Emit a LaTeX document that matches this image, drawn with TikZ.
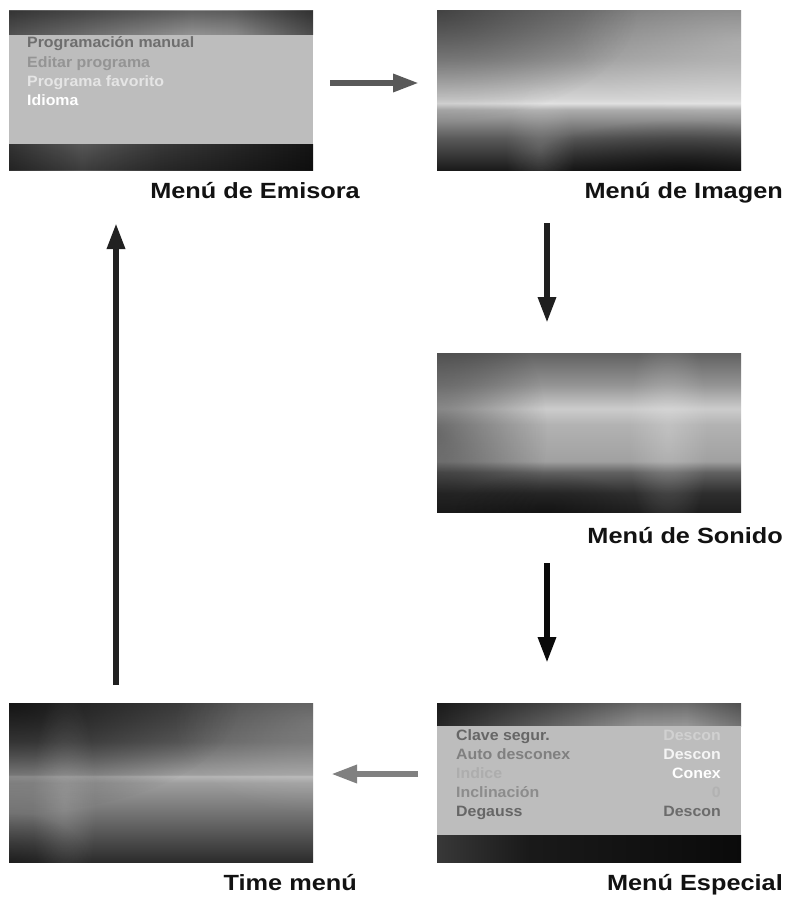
\documentclass[tikz,border=0pt]{standalone}
\usepackage{fontspec}
\setmainfont{Liberation Sans}
\newfontfamily\lblfont[FakeStretch=1.15]{Liberation Sans}
\newfontfamily\itemfont[FakeStretch=1.06]{Liberation Sans}
\usetikzlibrary{arrows.meta,fadings}

% vertical shadings: 25bp = bottom, 75bp = top
\pgfdeclareverticalshading{imgV}{100bp}{color(0bp)=(black!90); color(25bp)=(black!90); color(35bp)=(black!65); color(44bp)=(black!32); color(46bp)=(black!12); color(47.5bp)=(black!17); color(60bp)=(black!38); color(75bp)=(black!52); color(100bp)=(black!52)}
\pgfdeclareverticalshading{sonV}{100bp}{color(0bp)=(black!88); color(25bp)=(black!88); color(31bp)=(black!82); color(37.5bp)=(black!62); color(41bp)=(black!37); color(52.5bp)=(black!30); color(57.5bp)=(black!20); color(65bp)=(black!42); color(75bp)=(black!62); color(100bp)=(black!62)}
\pgfdeclareverticalshading{timeV}{100bp}{color(0bp)=(black!83); color(25bp)=(black!83); color(37.5bp)=(black!60); color(50bp)=(black!38); color(52bp)=(black!29); color(52.5bp)=(black!38); color(63bp)=(black!62); color(75bp)=(black!72); color(100bp)=(black!72)}
% horizontal shadings: 25bp = left, 75bp = right
\pgfdeclarehorizontalshading{emisTop}{100bp}{color(0bp)=(black!68); color(25bp)=(black!68); color(40bp)=(black!55); color(55bp)=(black!42); color(62bp)=(black!45); color(75bp)=(black!70); color(100bp)=(black!70)}
\pgfdeclarehorizontalshading{emisBot}{100bp}{color(0bp)=(black!80); color(25bp)=(black!80); color(37bp)=(black!66); color(50bp)=(black!78); color(75bp)=(black!92); color(100bp)=(black!92)}
\pgfdeclarehorizontalshading{espTop}{100bp}{color(0bp)=(black!85); color(25bp)=(black!85); color(45bp)=(black!60); color(58bp)=(black!42); color(66bp)=(black!40); color(75bp)=(black!55); color(100bp)=(black!55)}
\pgfdeclarehorizontalshading{espBot}{100bp}{color(0bp)=(black!78); color(25bp)=(black!78); color(40bp)=(black!90); color(75bp)=(black!96); color(100bp)=(black!96)}

\tikzfading[name=fadeT, top color=transparent!0, bottom color=transparent!100]
\tikzfading[name=fadeB, top color=transparent!100, bottom color=transparent!0]
\tikzfading[name=blob, inner color=transparent!0, outer color=transparent!100]

\tikzset{
  screen/.style={rectangle, inner sep=0pt, outer sep=0pt, minimum width=304pt, minimum height=159pt},
  lbl/.style={inner sep=0pt, text=black!93, font={\lblfont\fontsize{22pt}{22pt}\selectfont\bfseries}},
  item/.style={inner sep=0pt, font={\itemfont\fontsize{15pt}{15pt}\selectfont\bfseries}},
  arr/.style={line width=6pt, -{Triangle[length=26pt,width=17pt]}},
  darkblob/.style={black, fill opacity=#1, path fading=blob},
  lightblob/.style={white, fill opacity=#1, path fading=blob},
}

\begin{document}
\begin{tikzpicture}[x=1pt,y=-1pt]
\useasboundingbox (0,0) rectangle (791,899);

% ---------- screens (named nodes) ----------
\node[screen] (emis) at (161,90.5) {};
\node[screen] (imag) at (589,90.5) {};
\node[screen] (soni) at (589,432.5) {};
\node[screen] (espe) at (589,782.5) {};
\node[screen] (time) at (161,782.5) {};

% Menu de Emisora
\begin{scope}
\clip (emis.north west) rectangle (emis.south east);
\shade[shading=emisTop] (emis.north west) rectangle ([yshift=-24pt]emis.north east);
\fill[black, fill opacity=0.35, path fading=fadeT] (emis.north west) rectangle ([yshift=-24pt]emis.north east);
\fill[black!26] ([yshift=-24pt]emis.north west) rectangle ([yshift=26pt]emis.south east);
\shade[shading=emisBot] ([yshift=26pt]emis.south west) rectangle (emis.south east);
\fill[black, fill opacity=0.3, path fading=fadeB] ([yshift=26pt]emis.south west) rectangle (emis.south east);
\end{scope}

% Menu de Imagen
\begin{scope}
\clip (imag.north west) rectangle (imag.south east);
\shade[shading=imgV] (imag.north west) rectangle (imag.south east);
\fill[darkblob=0.45] (imag.north west) ellipse (200 and 110);
\fill[lightblob=0.25] ([yshift=-30pt]imag.north east) ellipse (170 and 80);
\fill[darkblob=0.5] ([xshift=-60pt]imag.south east) ellipse (160 and 50);
\fill[lightblob=0.14] ([xshift=103pt,yshift=20pt]imag.south west) ellipse (35 and 70);
\end{scope}

% Menu de Sonido
\begin{scope}
\clip (soni.north west) rectangle (soni.south east);
\shade[shading=sonV] (soni.north west) rectangle (soni.south east);
\fill[darkblob=0.4] (soni.west) ellipse (110 and 140);
\fill[lightblob=0.2] ([xshift=231pt]soni.west) ellipse (40 and 120);
\fill[darkblob=0.35] ([xshift=108pt]soni.south west) ellipse (90 and 40);
\end{scope}

% Menu Especial
\begin{scope}
\clip (espe.north west) rectangle (espe.south east);
\shade[shading=espTop] (espe.north west) rectangle ([yshift=-23pt]espe.north east);
\fill[black, fill opacity=0.3, path fading=fadeT] (espe.north west) rectangle ([yshift=-23pt]espe.north east);
\fill[black!26] ([yshift=-23pt]espe.north west) rectangle ([yshift=27pt]espe.south east);
\shade[shading=espBot] ([yshift=27pt]espe.south west) rectangle (espe.south east);
\end{scope}

% Time menu
\begin{scope}
\clip (time.north west) rectangle (time.south east);
\shade[shading=timeV] (time.north west) rectangle (time.south east);
\fill[darkblob=0.7] (time.north west) ellipse (230 and 110);
\fill[lightblob=0.2] ([yshift=-20pt]time.north east) ellipse (140 and 90);
\fill[lightblob=0.13] ([xshift=55pt,yshift=-20pt]time.west) ellipse (32 and 120);
\fill[darkblob=0.3] (time.south west) ellipse (80 and 50);
\end{scope}

% ---------- menu texts ----------
\node[item, anchor=base west, text=black!57] (e1) at (27,48) {Programación manual};
\node[item, anchor=base west, text=black!42] (e2) at (27,67) {Editar programa};
\node[item, anchor=base west, text=black!10] (e3) at (27,86) {Programa favorito};
\node[item, anchor=base west, text=white] (e4) at (27,105) {Idioma};

\node[item, anchor=base west, text=black!60] (s1) at (456,740) {Clave segur.};
\node[item, anchor=base west, text=black!50] (s2) at (456,759) {Auto desconex};
\node[item, anchor=base west, text=black!32] (s3) at (456,778) {Indice};
\node[item, anchor=base west, text=black!45] (s4) at (456,797) {Inclinación};
\node[item, anchor=base west, text=black!60] (s5) at (456,816) {Degauss};
\node[item, anchor=base east, text=black!18] (v1) at (721,740) {Descon};
\node[item, anchor=base east, text=black!4] (v2) at (721,759) {Descon};
\node[item, anchor=base east, text=white] (v3) at (721,778) {Conex};
\node[item, anchor=base east, text=black!30] (v4) at (721,797) {0};
\node[item, anchor=base east, text=black!58] (v5) at (721,816) {Descon};

% ---------- labels ----------
\node[lbl, anchor=base east] (lemis) at (360,198) {Menú de Emisora};
\node[lbl, anchor=base east] (limag) at (783,198) {Menú de Imagen};
\node[lbl, anchor=base east] (lsoni) at (783,543) {Menú de Sonido};
\node[lbl, anchor=base east] (lespe) at (783,890) {Menú Especial};
\node[lbl, anchor=base east] (ltime) at (357,890) {Time menú};

% ---------- connectors ----------
\coordinate (a1s) at (330,83);  \coordinate (a1e) at (419,83);
\coordinate (a2s) at (547,223); \coordinate (a2e) at (547,323);
\coordinate (a3s) at (547,563); \coordinate (a3e) at (547,663);
\coordinate (a4s) at (418,774); \coordinate (a4e) at (331,774);
\coordinate (a5s) at (116,685); \coordinate (a5e) at (116,223);

\draw[arr, black!65] (a1s) -- (a1e);
\draw[arr, black!88] (a2s) -- (a2e);
\draw[arr, black!96] (a3s) -- (a3e);
\draw[arr, black!50] (a4s) -- (a4e);
\draw[arr, black!87] (a5s) -- (a5e);
\end{tikzpicture}
\end{document}
